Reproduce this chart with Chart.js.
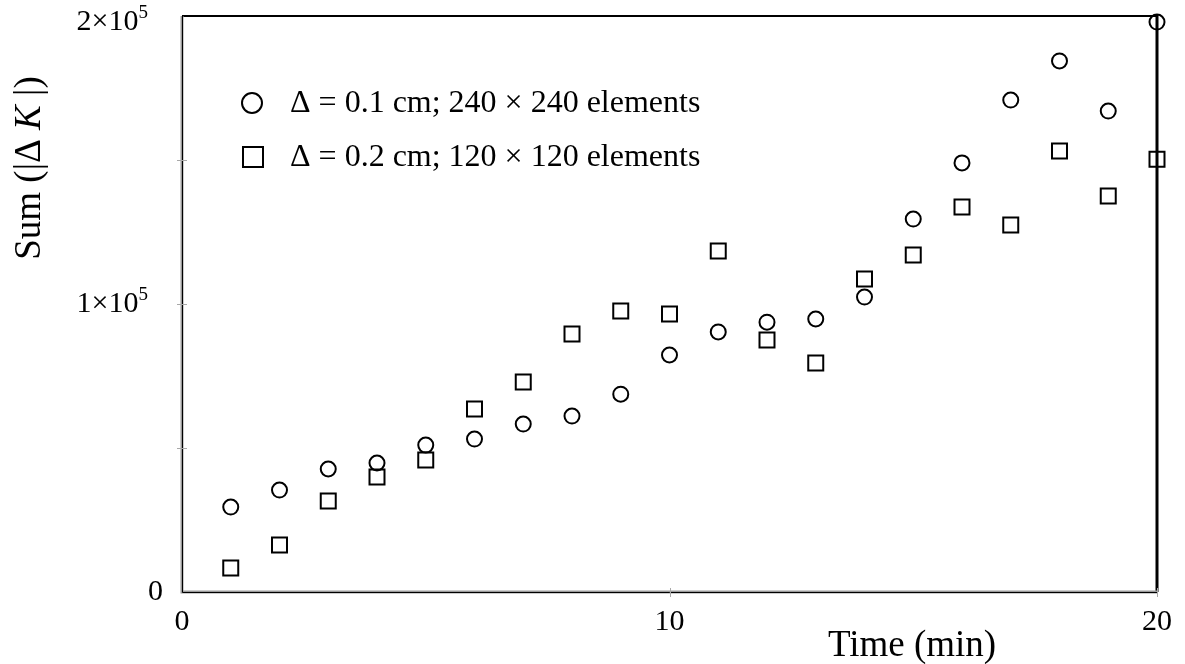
<!DOCTYPE html>
<html lang="en">
<head>
    <meta charset="UTF-8">
    <title>Sum of |ΔK| over time</title>
    <script src="https://cdn.jsdelivr.net/npm/chart.js@4.4.0/dist/chart.umd.min.js"></script>
    <style>
        body { margin: 0; background: #fff; }
    </style>
</head>
<body>

    <canvas id="myChart" width="1185" height="664"></canvas>
    <script>

    // time in minutes
    var times = [1, 2, 3, 4, 5, 6, 7, 8, 9, 10, 11, 12, 13, 14, 15, 16, 17, 18, 19, 20]
    // delta = 0.1 cm, 240 x 240 elements
    var fineSums = [29500, 35400, 42700, 44800, 51000, 53100, 58300, 61100, 68700, 82300,
                    90300, 93700, 94800, 102400, 129500, 149000, 170800, 184400, 167000, 197900]
    // delta = 0.2 cm, 120 x 120 elements
    var coarseSums = [8300, 16300, 31600, 39900, 45800, 63500, 72900, 89600, 97600, 96500,
                      118400, 87500, 79500, 108700, 117000, 133700, 127400, 153100, 137500, 150300]
    var seriesLabels = ['\u0394 = 0.1 cm; 240 \u00d7 240 elements', '\u0394 = 0.2 cm; 120 \u00d7 120 elements']
    var xTicks = [0, 10, 20]
    var yTickValues = [0, 100000, 200000]
    var yTickBase = ['0', '1\u00d710', '2\u00d710']
    var yTickExp = ['', '5', '5']
    var yMinorTicks = [50000, 100000, 150000]

    var serif = '"Liberation Serif", "Times New Roman", serif'

    function toPoints(values) {
        return times.map(function (t, i) { return { x: t, y: values[i] } })
    }

    // frame, tick marks, y labels with superscript, titles and legend
    var decorations = {
        id: 'decorations',
        beforeDatasetsDraw: function (chart) {
            var ctx = chart.ctx
            var a = chart.chartArea
            var xs = chart.scales.x
            var ys = chart.scales.y
            ctx.save()
            // top and right frame
            ctx.strokeStyle = '#000'
            ctx.lineWidth = 2
            ctx.beginPath()
            ctx.moveTo(a.left, a.top)
            ctx.lineTo(a.right, a.top)
            ctx.stroke()
            ctx.lineWidth = 3
            ctx.beginPath()
            ctx.moveTo(a.right, a.top - 1)
            ctx.lineTo(a.right, a.bottom)
            ctx.stroke()
            // left and bottom axes: gray with a black core
            ctx.strokeStyle = '#9a9a9a'
            ctx.lineWidth = 3
            ctx.beginPath()
            ctx.moveTo(a.left, a.top)
            ctx.lineTo(a.left, a.bottom)
            ctx.lineTo(a.right, a.bottom)
            ctx.stroke()
            ctx.strokeStyle = '#000'
            ctx.lineWidth = 1
            ctx.beginPath()
            ctx.moveTo(a.left + 0.5, a.top)
            ctx.lineTo(a.left + 0.5, a.bottom + 0.5)
            ctx.lineTo(a.right, a.bottom + 0.5)
            ctx.stroke()
            // tick marks
            ctx.strokeStyle = '#a8a8a8'
            ctx.lineWidth = 1
            yMinorTicks.forEach(function (v) {
                var y = Math.round(ys.getPixelForValue(v)) + 0.5
                ctx.beginPath()
                ctx.moveTo(a.left - 5, y)
                ctx.lineTo(a.left + 5, y)
                ctx.stroke()
            })
            xTicks.slice(1).forEach(function (v) {
                var x = Math.round(xs.getPixelForValue(v)) + 0.5
                ctx.beginPath()
                ctx.moveTo(x, a.bottom - 4)
                ctx.lineTo(x, a.bottom + 5)
                ctx.stroke()
            })
            ctx.restore()
        },
        afterDraw: function (chart) {
            var ctx = chart.ctx
            var a = chart.chartArea
            var ys = chart.scales.y
            ctx.save()
            ctx.fillStyle = '#000'
            ctx.textBaseline = 'middle'

            // y tick labels
            yTickValues.forEach(function (v, i) {
                var y = ys.getPixelForValue(v)
                if (i === yTickValues.length - 1) y += 6
                ctx.font = '30px ' + serif
                var bw = ctx.measureText(yTickBase[i]).width
                ctx.font = '19px ' + serif
                var ew = yTickExp[i] ? ctx.measureText(yTickExp[i]).width : 0
                var right = yTickExp[i] ? 148 : 163
                ctx.font = '30px ' + serif
                ctx.textAlign = 'left'
                ctx.fillText(yTickBase[i], right - ew - bw, y)
                if (yTickExp[i]) {
                    ctx.font = '19px ' + serif
                    ctx.fillText(yTickExp[i], right - ew, y - 9)
                }
            })

            // x title
            ctx.font = '37px ' + serif
            ctx.textAlign = 'center'
            ctx.fillText('Time (min)', 912, 646)

            // y title, rotated, with italic K
            var parts = [['Sum (|\u0394 ', ''], ['K', 'italic '], [' |)', '']]
            var total = 0
            parts.forEach(function (p) {
                ctx.font = p[1] + '37px ' + serif
                p.push(ctx.measureText(p[0]).width)
                total += p[2]
            })
            ctx.translate(30, 168)
            ctx.rotate(-Math.PI / 2)
            ctx.textAlign = 'left'
            var px = -total / 2
            parts.forEach(function (p) {
                ctx.font = p[1] + '37px ' + serif
                ctx.fillText(p[0], px, 0)
                px += p[2]
            })
            ctx.setTransform(1, 0, 0, 1, 0, 0)

            // legend
            ctx.strokeStyle = '#000'
            ctx.lineWidth = 2
            ctx.beginPath()
            ctx.arc(252, 103, 10, 0, Math.PI * 2)
            ctx.stroke()
            ctx.strokeRect(243, 147, 20, 20)
            ctx.font = '32px ' + serif
            ctx.textAlign = 'left'
            ctx.fillText(chart.data.datasets[0].label, 290, 104)
            ctx.fillText(chart.data.datasets[1].label, 290, 158)
            ctx.restore()
        }
    }

    window.onload = function () {
        var ctx = document.getElementById('myChart').getContext('2d')
        var chart = new Chart(ctx, {
            type: 'scatter',
            data: {
                datasets: [{
                    label: seriesLabels[0],
                    data: toPoints(fineSums),
                    pointStyle: 'circle',
                    pointRadius: 7.5,
                    borderColor: '#000',
                    backgroundColor: 'rgba(0,0,0,0)',
                    borderWidth: 2,
                    clip: false
                }, {
                    label: seriesLabels[1],
                    data: toPoints(coarseSums),
                    pointStyle: 'rect',
                    pointRadius: 10.6,
                    borderColor: '#000',
                    backgroundColor: 'rgba(0,0,0,0)',
                    borderWidth: 2,
                    clip: false
                }]
            },
            options: {
                responsive: false,
                animation: false,
                layout: { padding: { top: 16, right: 28, left: 0, bottom: 0 } },
                plugins: {
                    legend: { display: false },
                    tooltip: { enabled: false }
                },
                scales: {
                    x: {
                        type: 'linear',
                        min: 0,
                        max: 20,
                        afterFit: function (scale) { scale.height = 72 },
                        afterBuildTicks: function (scale) {
                            scale.ticks = xTicks.map(function (v) { return { value: v } })
                        },
                        grid: { display: false },
                        border: { display: false },
                        ticks: {
                            color: '#000',
                            font: { family: serif, size: 30 },
                            padding: 4,
                            maxRotation: 0
                        }
                    },
                    y: {
                        min: 0,
                        max: 200000,
                        afterFit: function (scale) { scale.width = 182 },
                        grid: { display: false },
                        border: { display: false },
                        ticks: { display: false, stepSize: 50000 }
                    }
                }
            },
            plugins: [decorations]
        })
    }

    </script>

</body>
</html>
